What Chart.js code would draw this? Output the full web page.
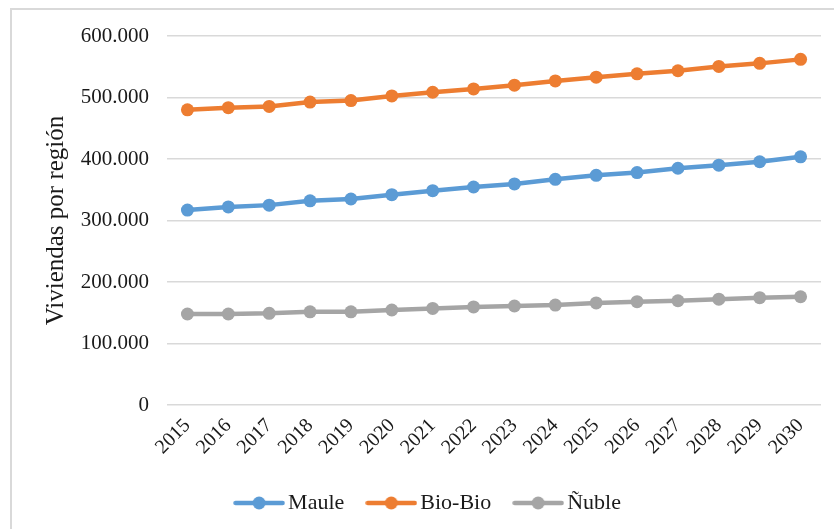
<!DOCTYPE html>
<html>
<head>
<meta charset="utf-8">
<script src="https://cdn.jsdelivr.net/npm/chart.js@4/dist/chart.umd.min.js"></script>
<style>
  html, body { margin: 0; padding: 0; background: #fff; overflow: hidden; }
  #wrap { position: relative; width: 834px; height: 529px; }
  #frame { position: absolute; left: 10px; top: 8px; width: 900px; height: 600px;
           border: 2px solid #d9d9d9; box-sizing: border-box; }
  canvas { position: absolute; left: 0; top: 0; }
</style>
</head>
<body>
<div id="wrap">
  <div id="frame"></div>
  <canvas id="c" width="834" height="529"></canvas>
</div>
<script>
// Años proyectados
const years = ['2015','2016','2017','2018','2019','2020','2021','2022',
               '2023','2024','2025','2026','2027','2028','2029','2030'];

// Viviendas por región (número de viviendas)
const maule  = [317000, 322000, 325000, 332000, 335000, 342000, 348500, 354500,
                359500, 367000, 373500, 378000, 385000, 390000, 395500, 403500];
const bioBio = [480000, 483500, 485500, 492500, 495000, 502500, 508500, 514000,
                520000, 527000, 533000, 538500, 543500, 550500, 555500, 562000];
const nuble  = [148000, 148000, 149000, 151500, 151500, 154500, 157000, 159500,
                161000, 162500, 166000, 168000, 169500, 172000, 174500, 176000];

const seriesNames = ['Maule', 'Bio-Bio', 'Ñuble'];
const seriesColors = ['#5b9bd5', '#ed7d31', '#a5a5a5'];

const FONT = "'Liberation Serif', 'Times New Roman', serif";

// Legend swatch: short line with a round marker in the middle
function legendSwatch(color) {
  const cv = document.createElement('canvas');
  cv.width = 52; cv.height = 14;
  const g = cv.getContext('2d');
  g.strokeStyle = color; g.lineWidth = 4.5; g.lineCap = 'round';
  g.beginPath(); g.moveTo(2.5, 7); g.lineTo(49.5, 7); g.stroke();
  g.fillStyle = color;
  g.beginPath(); g.arc(26, 7, 6.5, 0, Math.PI * 2); g.fill();
  return cv;
}
const swatches = seriesColors.map(legendSwatch);

function fmtThousands(v) {
  return String(v).replace(/\B(?=(\d{3})+(?!\d))/g, '.');
}

const dataSets = [maule, bioBio, nuble].map((vals, i) => ({
  label: seriesNames[i],
  data: vals,
  borderColor: seriesColors[i],
  backgroundColor: seriesColors[i],
  borderWidth: 4.5,
  pointRadius: 6.5,
  pointHoverRadius: 6.5,
  pointBorderWidth: 0,
  pointBackgroundColor: seriesColors[i],
  tension: 0,
  fill: false
}));

new Chart(document.getElementById('c'), {
  type: 'line',
  data: { labels: years, datasets: dataSets },
  options: {
    responsive: false,
    animation: false,
    devicePixelRatio: 1,
    layout: { padding: { left: 41, right: 13, top: 36, bottom: 5 } },
    plugins: {
      tooltip: { enabled: false },
      legend: {
        position: 'bottom',
        labels: {
          usePointStyle: true,
          pointStyleWidth: 36,
          boxHeight: 14,
          padding: 29,
          color: '#1a1a1a',
          font: { family: FONT, size: 22 },
          generateLabels: (chart) => chart.data.datasets.map((ds, i) => ({
            text: ds.label,
            pointStyle: swatches[i],
            fillStyle: ds.borderColor,
            strokeStyle: ds.borderColor,
            lineWidth: 0,
            fontColor: '#1a1a1a',
            datasetIndex: i,
            hidden: false
          }))
        }
      }
    },
    scales: {
      x: {
        offset: true,
        grid: { display: false, drawTicks: false },
        border: { display: false },
        ticks: {
          minRotation: 45, maxRotation: 45,
          padding: 9,
          color: '#1a1a1a',
          font: { family: FONT, size: 20 }
        },
        afterFit: (s) => { s.height = 58; }
      },
      y: {
        min: 0, max: 600000,
        ticks: {
          stepSize: 100000,
          padding: 18,
          color: '#1a1a1a',
          font: { family: FONT, size: 21 },
          callback: (v) => fmtThousands(v)
        },
        grid: { color: '#d9d9d9', lineWidth: 1.5, drawTicks: false },
        border: { display: false },
        title: {
          display: true,
          text: 'Viviendas por región',
          color: '#1a1a1a',
          font: { family: FONT, size: 25 },
          padding: { top: 0, bottom: 0 }
        },
        afterFit: (s) => { s.width = 126; }
      }
    }
  }
});
</script>
</body>
</html>
